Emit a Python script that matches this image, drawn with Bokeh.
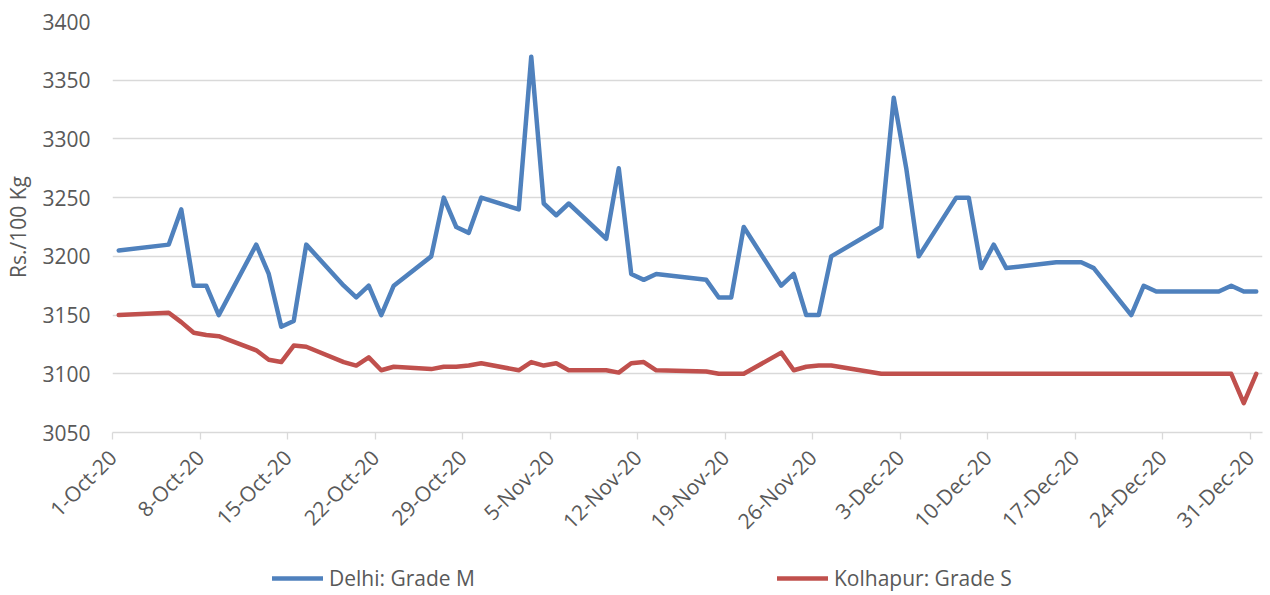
import math
import pandas as pd
from bokeh.plotting import figure
from bokeh.layouts import column
from bokeh.models import FixedTicker, Legend, LegendItem, Range1d
from bokeh.embed import file_html
from bokeh.resources import INLINE

# ---------------- data ----------------
dates = [
    "2020-10-01", "2020-10-05", "2020-10-06", "2020-10-07", "2020-10-08", "2020-10-09",
    "2020-10-12", "2020-10-13", "2020-10-14", "2020-10-15", "2020-10-16",
    "2020-10-19", "2020-10-20", "2020-10-21", "2020-10-22", "2020-10-23",
    "2020-10-26", "2020-10-27", "2020-10-28", "2020-10-29", "2020-10-30",
    "2020-11-02", "2020-11-03", "2020-11-04", "2020-11-05", "2020-11-06",
    "2020-11-09", "2020-11-10", "2020-11-11", "2020-11-12", "2020-11-13",
    "2020-11-17", "2020-11-18", "2020-11-19", "2020-11-20",
    "2020-11-23", "2020-11-24", "2020-11-25", "2020-11-26", "2020-11-27",
    "2020-12-01", "2020-12-02", "2020-12-03", "2020-12-04",
    "2020-12-07", "2020-12-08", "2020-12-09", "2020-12-10", "2020-12-11",
    "2020-12-15", "2020-12-16", "2020-12-17", "2020-12-18",
    "2020-12-21", "2020-12-22", "2020-12-23", "2020-12-24",
    "2020-12-28", "2020-12-29", "2020-12-30", "2020-12-31",
]

delhi = [
    3205, 3210, 3240, 3175, 3175, 3150,
    3210, 3185, 3140, 3145, 3210,
    3175, 3165, 3175, 3150, 3175,
    3200, 3250, 3225, 3220, 3250,
    3240, 3370, 3245, 3235, 3245,
    3215, 3275, 3185, 3180, 3185,
    3180, 3165, 3165, 3225,
    3175, 3185, 3150, 3150, 3200,
    3225, 3335, 3275, 3200,
    3250, 3250, 3190, 3210, 3190,
    3195, 3195, 3195, 3190,
    3150, 3175, 3170, 3170,
    3170, 3175, 3170, 3170,
]

kolhapur = [
    3150, 3152, 3144, 3135, 3133, 3132,
    3120, 3112, 3110, 3124, 3123,
    3110, 3107, 3114, 3103, 3106,
    3104, 3106, 3106, 3107, 3109,
    3103, 3110, 3107, 3109, 3103,
    3103, 3101, 3109, 3110, 3103,
    3102, 3100, 3100, 3100,
    3118, 3103, 3106, 3107, 3107,
    3100, 3100, 3100, 3100,
    3100, 3100, 3100, 3100, 3100,
    3100, 3100, 3100, 3100,
    3100, 3100, 3100, 3100,
    3100, 3100, 3075, 3100,
]

tick_dates = [
    "2020-10-01", "2020-10-08", "2020-10-15", "2020-10-22", "2020-10-29",
    "2020-11-05", "2020-11-12", "2020-11-19", "2020-11-26",
    "2020-12-03", "2020-12-10", "2020-12-17", "2020-12-24", "2020-12-31",
]
tick_labels = [
    "1-Oct-20", "8-Oct-20", "15-Oct-20", "22-Oct-20", "29-Oct-20",
    "5-Nov-20", "12-Nov-20", "19-Nov-20", "26-Nov-20",
    "3-Dec-20", "10-Dec-20", "17-Dec-20", "24-Dec-20", "31-Dec-20",
]
y_ticks = [3050, 3100, 3150, 3200, 3250, 3300, 3350, 3400]
series_names = ["Delhi: Grade M", "Kolhapur: Grade S"]

# ---------------- styles ----------------
FONT = "Open Sans"
FSIZE = "21px"
TXT = "#595959"
GRID = "#d9d9d9"
BLUE = "#4f81bd"
RED = "#c0504d"
LW = 4.5

# points sit in the middle of each day slot (Excel date axis)
x = pd.to_datetime(dates) + pd.Timedelta(hours=12)
tick_ms = [int(pd.Timestamp(d).value // 10**6) for d in tick_dates]
x_start, x_end = pd.Timestamp("2020-10-01"), pd.Timestamp("2021-01-01")

p = figure(
    width=1270, height=550,
    x_axis_type="datetime",
    x_range=Range1d(x_start, x_end),
    y_range=Range1d(3050, 3400),
    output_backend="svg", toolbar_location=None,
    min_border_left=112, min_border_right=8, min_border_top=21, min_border_bottom=118,
)
p.outline_line_color = None
p.background_fill_color = "white"
p.border_fill_color = "white"

p.xgrid.visible = False
p.ygrid.grid_line_color = GRID
p.ygrid.grid_line_width = 1.3

p.yaxis.ticker = FixedTicker(ticks=y_ticks)
p.yaxis.axis_line_color = None
p.yaxis.major_tick_line_color = None
p.yaxis.minor_tick_line_color = None
p.yaxis.major_tick_out = 0
p.yaxis.major_tick_in = 0
p.yaxis.major_label_standoff = 22
p.yaxis.major_label_text_font = FONT
p.yaxis.major_label_text_font_size = FSIZE
p.yaxis.major_label_text_color = TXT
p.yaxis.axis_label = "Rs./100 Kg"
p.yaxis.axis_label_standoff = 7
p.yaxis.axis_label_text_font = FONT
p.yaxis.axis_label_text_font_size = FSIZE
p.yaxis.axis_label_text_font_style = "normal"
p.yaxis.axis_label_text_color = TXT

p.xaxis.ticker = FixedTicker(ticks=tick_ms)
p.xaxis.major_label_overrides = dict(zip(tick_ms, tick_labels))
p.xaxis.major_label_orientation = math.pi / 4
p.xaxis.axis_line_color = GRID
p.xaxis.axis_line_width = 1.3
p.xaxis.major_tick_line_color = GRID
p.xaxis.major_tick_line_width = 1.3
p.xaxis.major_tick_out = 7
p.xaxis.major_tick_in = 0
p.xaxis.minor_tick_line_color = None
p.xaxis.major_label_standoff = 14
p.xaxis.major_label_text_font = FONT
p.xaxis.major_label_text_font_size = FSIZE
p.xaxis.major_label_text_color = TXT

p.line(x, delhi, line_color=BLUE, line_width=LW, line_join="round", line_cap="round")
p.line(x, kolhapur, line_color=RED, line_width=LW, line_join="round", line_cap="round")

# ---------------- legend strip ----------------
# A second, axis-less figure whose y range lies outside the data, so its two
# series renderers draw nothing in view but give the legend its line samples.
leg = figure(
    width=1270, height=45, output_backend="svg", toolbar_location=None,
    x_axis_type="datetime",
    x_range=Range1d(x_start, x_end), y_range=Range1d(0, 1),
    x_axis_location=None, y_axis_location=None,
    min_border_left=112, min_border_right=8, min_border_top=0, min_border_bottom=0,
)
leg.outline_line_color = None
leg.grid.visible = False
leg.background_fill_color = "white"
leg.border_fill_color = "white"
lr1 = leg.line(x, delhi, line_color=BLUE, line_width=LW, line_cap="round")
lr2 = leg.line(x, kolhapur, line_color=RED, line_width=LW, line_cap="round")

legend = Legend(
    items=[LegendItem(label=series_names[0], renderers=[lr1]),
           LegendItem(label=series_names[1], renderers=[lr2])],
    orientation="horizontal",
    location=(160, 3),
    glyph_width=51, glyph_height=16, label_standoff=6, spacing=302,
    padding=0, margin=0,
    border_line_color=None, background_fill_alpha=0,
    label_text_font=FONT, label_text_font_size=FSIZE, label_text_color=TXT,
)
leg.add_layout(legend)

layout = column(p, leg, spacing=0)
open("out.html", "w").write(file_html(layout, INLINE))
